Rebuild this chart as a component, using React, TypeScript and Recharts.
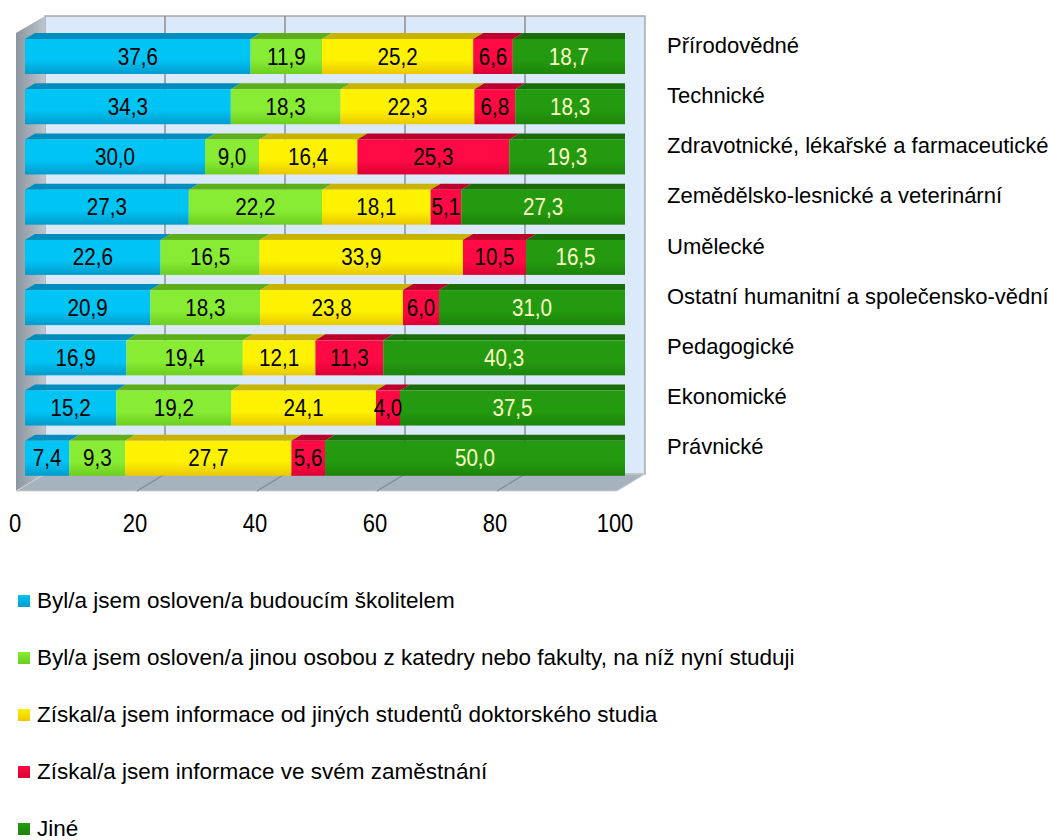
import React from 'react';
import {
  BarChart,
  Bar,
  XAxis,
  YAxis,
  ReferenceArea,
  LabelList,
} from 'recharts';

const categories = [
  'Přírodovědné',
  'Technické',
  'Zdravotnické, lékařské a farmaceutické',
  'Zemědělsko-lesnické a veterinární',
  'Umělecké',
  'Ostatní humanitní a společensko-vědní',
  'Pedagogické',
  'Ekonomické',
  'Právnické',
];

const skolitel = [37.6, 34.3, 30.0, 27.3, 22.6, 20.9, 16.9, 15.2, 7.4];
const jinaOsoba = [11.9, 18.3, 9.0, 22.2, 16.5, 18.3, 19.4, 19.2, 9.3];
const studenti = [25.2, 22.3, 16.4, 18.1, 33.9, 23.8, 12.1, 24.1, 27.7];
const zamestnani = [6.6, 6.8, 25.3, 5.1, 10.5, 6.0, 11.3, 4.0, 5.6];
const jine = [18.7, 18.3, 19.3, 27.3, 16.5, 31.0, 40.3, 37.5, 50.0];

const seriesNames = [
  'Byl/a jsem osloven/a budoucím školitelem',
  'Byl/a jsem osloven/a jinou osobou z katedry nebo fakulty, na níž nyní studuji',
  'Získal/a jsem informace od jiných studentů doktorského studia',
  'Získal/a jsem informace ve svém zaměstnání',
  'Jiné',
];

const xTicks = [0, 20, 40, 60, 80, 100];
const gridSteps = [20, 40, 60, 80];

const data = categories.map((name, i) => ({
  name,
  skolitel: skolitel[i],
  jinaOsoba: jinaOsoba[i],
  studenti: studenti[i],
  zamestnani: zamestnani[i],
  jine: jine[i],
}));

const series = [
  { key: 'skolitel', light: '#00c4f4', dark: '#009ccd', top: '#008cbc', side: '#0078a8', text: '#000000' },
  { key: 'jinaOsoba', light: '#88ec34', dark: '#6cce1e', top: '#5eae1c', side: '#4e9414', text: '#000000' },
  { key: 'studenti', light: '#fff200', dark: '#e8c800', top: '#c8b400', side: '#a89400', text: '#000000' },
  { key: 'zamestnani', light: '#ff0a44', dark: '#dc0034', top: '#bc002c', side: '#9c0024', text: '#000000' },
  { key: 'jine', light: '#249a10', dark: '#1c840a', top: '#1a6c08', side: '#135a06', text: '#fffbc4' },
];

const DX = 10;
const DY = 6;
const SANS = '"Liberation Sans", Arial, sans-serif';

const fmt = (v: any) => Number(v).toFixed(1).replace('.', ',');

function barShape(s: (typeof series)[number], last: boolean) {
  return (props: any) => {
    const { x, y, width, height } = props;
    if (!width || width <= 0) return <g />;
    return (
      <g>
        <polygon
          points={`${x},${y} ${x + width},${y} ${x + width + DX},${y - DY} ${x + DX},${y - DY}`}
          fill={s.top}
        />
        <rect x={x} y={y} width={width} height={height} fill={`url(#g-${s.key})`} />
        {last && (
          <polygon
            points={`${x + width},${y} ${x + width + DX},${y - DY} ${x + width + DX},${y + height - DY} ${x + width},${y + height}`}
            fill={s.side}
          />
        )}
      </g>
    );
  };
}

// narrow-looking value labels (Arial Narrow is not installed)
const valueLabel = (color: string) => (props: any) => {
  const vb = props.viewBox || props;
  const cx = vb.x + vb.width / 2;
  const cy = vb.y + vb.height / 2;
  return (
    <text
      transform={`translate(${cx},${cy}) scale(0.86,1)`}
      textAnchor="middle"
      dominantBaseline="central"
      fontSize={24}
      fontFamily={SANS}
      fill={color}
    >
      {fmt(props.value)}
    </text>
  );
};

// back wall, left wall and floor drawn around the plot area
const roomShape = (p: any) => {
  const { x, y, width: w, height: h } = p;
  const bx = x + 20;
  const by = y - 15;
  const bb = y + h - 9;
  const fx = x - 9;
  const fb = y + h + 8;
  return (
    <g>
      <rect x={bx} y={by} width={w} height={bb - by} fill="#dbeafa" stroke="#a8a8a8" strokeWidth={1.5} />
      <polygon points={`${fx},${y + 2} ${bx},${by} ${bx},${bb} ${fx},${fb}`} fill="url(#leftWall)" />
      <polygon
        points={`${fx},${fb} ${bx},${bb} ${bx + w},${bb} ${x + w - 8},${fb}`}
        fill="#a6b2be"
        stroke="#cfcfcf"
      />
    </g>
  );
};

// gridline at the right edge of each 20-wide slice, on the wall and the floor
const gridShape = (p: any) => {
  const { x, y, width: w, height: h } = p;
  const gx = x + w;
  return (
    <g>
      <line x1={gx + 20} y1={y - 15} x2={gx + 20} y2={y + h - 9} stroke="#8e8e8e" strokeWidth={1.5} />
      <line x1={gx + 20} y1={y + h - 9} x2={gx - 8} y2={y + h + 8} stroke="#7f8b97" strokeWidth={1.2} />
    </g>
  );
};

const CategoryTick = (props: any) => {
  const { x, y, payload } = props;
  return (
    <text x={x + 42} y={y - 11} textAnchor="start" dominantBaseline="central" fontSize={22} fontFamily={SANS} fill="#000">
      {payload.value}
    </text>
  );
};

const ValueTick = (props: any) => {
  const { x, y, payload } = props;
  return (
    <text
      transform={`translate(${x - 10},${y + 41}) scale(0.88,1)`}
      textAnchor="middle"
      dominantBaseline="central"
      fontSize={25}
      fontFamily={SANS}
      fill="#000"
    >
      {payload.value}
    </text>
  );
};

export default function App() {
  return (
    <div style={{ position: 'absolute', left: 0, top: 0, width: 1048, height: 840, background: '#fff' }}>
      <BarChart
        width={1048}
        height={560}
        layout="vertical"
        data={data}
        margin={{ top: 31, right: 0, bottom: 0, left: 25 }}
      >
        <defs>
          {series.map((s) => (
            <linearGradient key={s.key} id={`g-${s.key}`} x1="0" y1="0" x2="0" y2="1">
              <stop offset="0%" stopColor={s.light} />
              <stop offset="60%" stopColor={s.light} />
              <stop offset="100%" stopColor={s.dark} />
            </linearGradient>
          ))}
          <linearGradient id="leftWall" x1="0" y1="0" x2="1" y2="0">
            <stop offset="0%" stopColor="#8c96a0" />
            <stop offset="100%" stopColor="#bcc4cc" />
          </linearGradient>
        </defs>
        <XAxis
          type="number"
          domain={[0, 100]}
          ticks={xTicks}
          allowDataOverflow
          axisLine={false}
          tickLine={false}
          tickSize={0}
          tickMargin={0}
          height={77}
          tick={<ValueTick />}
          interval={0}
        />
        <YAxis
          type="category"
          dataKey="name"
          orientation="right"
          width={423}
          axisLine={false}
          tickLine={false}
          tickSize={0}
          tickMargin={0}
          tick={<CategoryTick />}
          interval={0}
        />
        <ReferenceArea x1={0} x2={100} shape={roomShape} ifOverflow="visible" />
        {gridSteps.map((v) => (
          <ReferenceArea key={v} x1={v - 20} x2={v} shape={gridShape} ifOverflow="visible" />
        ))}
        {series.map((s, i) => (
          <Bar
            key={s.key}
            dataKey={s.key}
            name={seriesNames[i]}
            stackId="a"
            barSize={35}
            isAnimationActive={false}
            shape={barShape(s, i === series.length - 1)}
          >
            <LabelList dataKey={s.key} position="center" content={valueLabel(s.text)} />
          </Bar>
        ))}
      </BarChart>
      <div style={{ position: 'absolute', left: 18, top: 572, fontFamily: SANS, fontSize: 22.5, color: '#000' }}>
        {series.map((s, i) => (
          <div key={s.key} style={{ display: 'flex', alignItems: 'center', height: 57, whiteSpace: 'nowrap' }}>
            <span
              style={{
                display: 'inline-block',
                width: 12,
                height: 12,
                marginRight: 7,
                flex: 'none',
                background: `linear-gradient(${s.light}, ${s.dark})`,
              }}
            />
            <span>{seriesNames[i]}</span>
          </div>
        ))}
      </div>
    </div>
  );
}
